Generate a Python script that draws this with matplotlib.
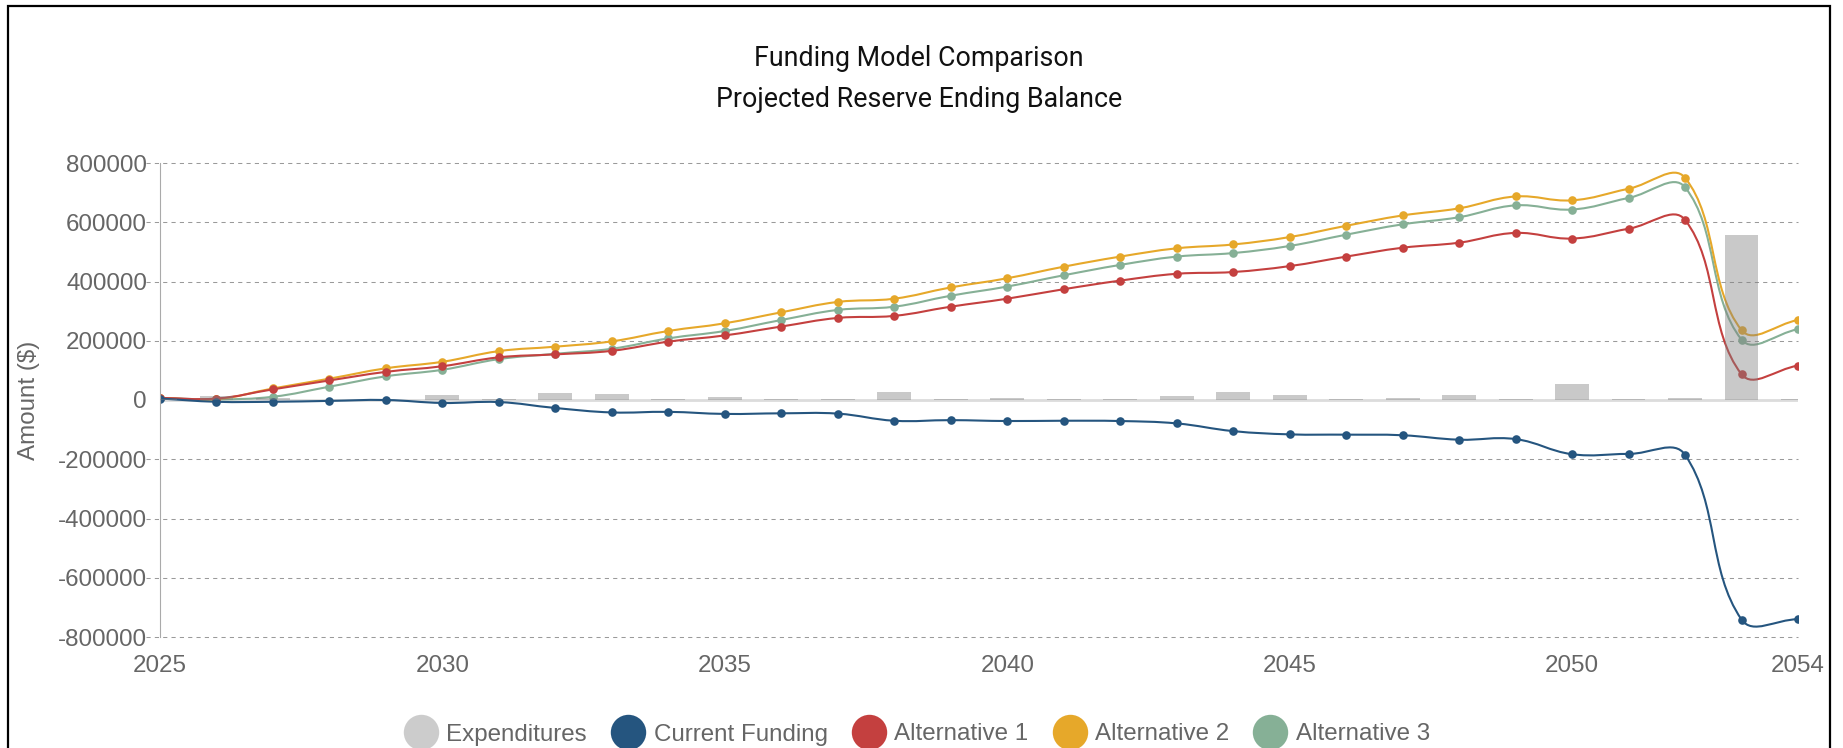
import numpy as np
import matplotlib
matplotlib.use("Agg")
import matplotlib.pyplot as plt
from matplotlib.path import Path
from matplotlib.patches import PathPatch, Rectangle
from matplotlib.lines import Line2D

# ---------------- data ----------------
years = list(range(2025, 2055))

expenditures = [2000, 15000, 5600, 1500, 1500, 16000, 3000, 23000, 20000, 3000,
                11000, 2000, 4500, 28000, 2000, 8000, 2000, 4500, 14500, 28000,
                18000, 2000, 8000, 18000, 4500, 55000, 4500, 8000, 557000, 3000]

current_funding = [5000, -6000, -6000, -3000, 0, -10000, -7000, -27000, -42000, -40000,
                   -47000, -45000, -46000, -70000, -68000, -71000, -70000, -71000, -79000, -105000,
                   -116000, -117000, -119000, -134000, -132000, -183000, -182000, -185000, -741000, -740000]

alternative_1 = [7000, 5000, 36000, 66000, 95000, 114000, 144000, 154000, 166000, 197000,
                 218000, 248000, 277000, 284000, 315000, 342000, 374000, 403000, 426000, 432000,
                 452000, 484000, 514000, 531000, 564000, 545000, 578000, 608000, 87000, 116000]

alternative_2 = [7000, 3000, 39000, 72000, 107000, 129000, 165000, 180000, 198000, 233000,
                 259000, 296000, 331000, 342000, 380000, 411000, 450000, 484000, 512000, 525000,
                 550000, 588000, 623000, 647000, 687000, 674000, 713000, 750000, 236000, 270000]

alternative_3 = [7000, 2000, 11000, 45000, 80000, 102000, 138000, 156000, 173000, 208000,
                 233000, 270000, 304000, 315000, 352000, 383000, 421000, 456000, 484000, 496000,
                 520000, 558000, 593000, 617000, 657000, 643000, 682000, 718000, 204000, 239000]

series_names = ["Expenditures", "Current Funding", "Alternative 1", "Alternative 2", "Alternative 3"]
y_ticks = [-800000, -600000, -400000, -200000, 0, 200000, 400000, 600000, 800000]
x_ticks = [2025, 2030, 2035, 2040, 2045, 2050, 2054]

title_lines = ["Funding Model Comparison", "Projected Reserve Ending Balance"]
y_label = "Amount ($)"

# ---------------- style ----------------
plt.rcParams["font.family"] = ["Liberation Sans", "DejaVu Sans"]
colors = {
    "Expenditures": "#cccccc",
    "Current Funding": "#25557f",
    "Alternative 1": "#c4403f",
    "Alternative 2": "#e6a82a",
    "Alternative 3": "#86b096",
}
text_gray = "#666666"
fs = 17.4

W, H = 1843, 748
fig = plt.figure(figsize=(W / 100, H / 100), dpi=100)
ax_l, ax_r, ax_t, ax_b = 160, 1798, 163, 637
ax = fig.add_axes([ax_l / W, (H - ax_b) / H, (ax_r - ax_l) / W, (ax_b - ax_t) / H])
ax.set_xlim(years[0], years[-1])
ax.set_ylim(y_ticks[0], y_ticks[-1])


def spline_path(ax, xs, ys, tension=0.4):
    """Chart.js-style cubic spline computed in pixel space."""
    pts = ax.transData.transform(np.column_stack([xs, ys]).astype(float))
    n = len(pts)
    prev_cp = np.zeros_like(pts)
    next_cp = np.zeros_like(pts)
    for i in range(n):
        p0 = pts[max(i - 1, 0)]
        p1 = pts[i]
        p2 = pts[min(i + 1, n - 1)]
        d01 = np.hypot(*(p1 - p0))
        d12 = np.hypot(*(p2 - p1))
        tot = d01 + d12
        s01 = d01 / tot if tot else 0.0
        s12 = d12 / tot if tot else 0.0
        prev_cp[i] = p1 - tension * s01 * (p2 - p0)
        next_cp[i] = p1 + tension * s12 * (p2 - p0)
    verts = [pts[0]]
    codes = [Path.MOVETO]
    for i in range(1, n):
        verts += [next_cp[i - 1], prev_cp[i], pts[i]]
        codes += [Path.CURVE4] * 3
    verts = ax.transData.inverted().transform(np.array(verts))
    return Path(verts, codes)


# grid lines (dashed, extending a little left of the axis like ticks)
ext = 14 / (ax_r - ax_l)
for yv in y_ticks:
    if yv == 0:
        continue
    ax.axhline(yv, xmin=-ext, xmax=1, color="#9a9a9a", lw=0.75,
               ls=(0, (4, 4)), clip_on=False, zorder=0.5)
ax.axhline(0, color="#dcdcdc", lw=2.0, zorder=1)

# lines (drawn bottom to top: Alt 3, Alt 2, Alt 1, Current)
line_series = [("Alternative 3", alternative_3, 2.0),
               ("Alternative 2", alternative_2, 2.1),
               ("Alternative 1", alternative_1, 2.2),
               ("Current Funding", current_funding, 2.3)]
for name, vals, z in line_series:
    c = colors[name]
    p = spline_path(ax, years, vals)
    ax.add_patch(PathPatch(p, fill=False, ec=c, lw=1.5, zorder=z, capstyle="round", joinstyle="round"))
    ax.plot(years, vals, ls="none", marker="o", ms=6.2, mfc=c, mec=c, mew=0, zorder=z + 0.01)

# bars on top, semi-transparent
ax.bar(years, expenditures, width=0.6, color=(0.5, 0.5, 0.5, 0.42), lw=0, zorder=3)

# axes styling
for s in ["top", "right", "bottom"]:
    ax.spines[s].set_visible(False)
ax.spines["left"].set_color("#aaaaaa")
ax.spines["left"].set_linewidth(0.8)
ax.set_yticks(y_ticks)
ax.set_yticklabels([str(v) for v in y_ticks])
ax.set_xticks(x_ticks)
ax.set_xticklabels([str(v) for v in x_ticks])
ax.tick_params(axis="y", length=0, pad=9.4, labelsize=fs, labelcolor=text_gray)
ax.tick_params(axis="x", length=0, pad=13.0, labelsize=fs, labelcolor=text_gray)

# titles
fig.text(919 / W, (H - 59) / H, title_lines[0], ha="center", va="center", fontsize=19.3,
         family=["Roboto", "DejaVu Sans"], color="#111111")
fig.text(919 / W, (H - 99.5) / H, title_lines[1], ha="center", va="center", fontsize=19.3,
         family=["Roboto", "DejaVu Sans"], color="#111111")

# y label
fig.text(29.4 / W, (H - 400) / H, y_label, rotation=90, ha="center", va="center",
         fontsize=fs, color=text_gray)

# legend
handles = [Line2D([], [], ls="none", marker="o", ms=25.5, mfc=colors[n], mec=colors[n], mew=0)
           for n in series_names]
fig.legend(handles, series_names, loc="center", bbox_to_anchor=(917 / W, (H - 734.5) / H),
           ncol=5, frameon=False, fontsize=fs, labelcolor=text_gray, handlelength=1.4,
           handletextpad=0.36, columnspacing=1.0, borderpad=0, borderaxespad=0)

# outer border
fig.patches.append(Rectangle((8 / W, -0.1), (1830 - 8) / W, (H - 6) / H + 0.1,
                             transform=fig.transFigure, fill=False, ec="black", lw=1.6,
                             figure=fig))

fig.savefig("out.png", dpi=100)
